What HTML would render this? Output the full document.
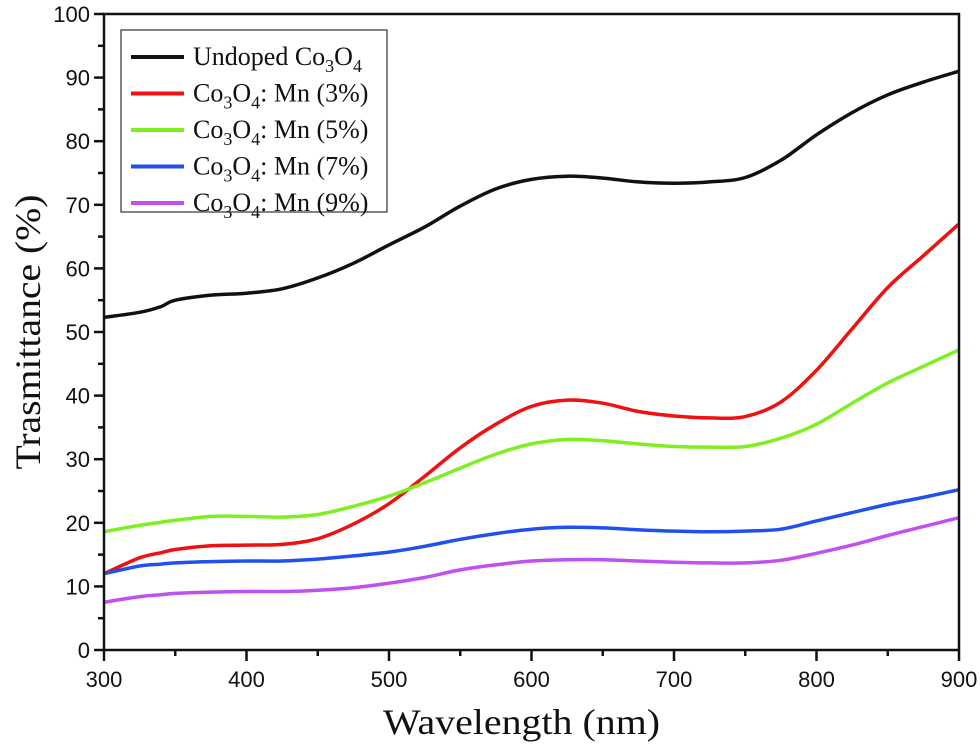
<!DOCTYPE html>
<html><head><meta charset="utf-8"><style>
body{margin:0;background:#fff}
svg{display:block}
.tick{font-family:"Liberation Sans",sans-serif;font-size:22px;fill:#111}
.title{font-family:"Liberation Serif",serif;font-size:36px;fill:#111}
.leg{font-family:"Liberation Serif",serif;font-size:26px;fill:#111}
</style></head><body>
<svg id="chart" width="980" height="745"></svg>
<script>
const wavelengths=[300,325,340,350,375,400,425,450,475,500,525,550,575,600,625,650,675,700,725,750,775,800,825,850,875,900];
const undoped=[52.3,53.1,54,55,55.8,56.1,56.8,58.5,60.8,63.7,66.5,69.8,72.5,74,74.5,74.2,73.6,73.4,73.6,74.3,77,81,84.5,87.3,89.3,91];
const mn3=[12,14.5,15.3,15.8,16.4,16.5,16.6,17.5,19.8,23,27.3,31.8,35.5,38.3,39.3,38.8,37.5,36.8,36.5,36.7,39,44,50.5,57,62,67];
const mn5=[18.6,19.6,20.1,20.4,21,21,20.9,21.3,22.6,24.2,26.3,28.6,30.8,32.4,33.1,32.9,32.4,32,31.9,32,33.3,35.5,38.8,42,44.6,47.2];
const mn7=[12,13.2,13.5,13.7,13.9,14,14,14.3,14.8,15.4,16.3,17.4,18.3,19,19.3,19.2,18.9,18.7,18.6,18.7,19,20.3,21.6,22.9,24,25.2];
const mn9=[7.5,8.4,8.7,8.9,9.1,9.2,9.2,9.4,9.8,10.5,11.4,12.6,13.4,14,14.2,14.2,14,13.8,13.7,13.7,14.1,15.2,16.5,18,19.4,20.8];
const xTicks=[300,400,500,600,700,800,900];
const yTicks=[0,10,20,30,40,50,60,70,80,90,100];
const seriesNames=["undoped","mn-3","mn-5","mn-7","mn-9"];
const seriesColors=["#111","#f01010","#7ef020","#2050f0","#c050f0"];
const seriesData=[undoped,mn3,mn5,mn7,mn9];

const L=104,R=959,T=14,B=650;
const sx=v=>L+(v-300)/600*(R-L);
const sy=v=>B-v/100*(B-T);
const NS="http://www.w3.org/2000/svg";
const svg=document.getElementById('chart');
function mk(tag,attrs,parent){const e=document.createElementNS(NS,tag);for(const k in attrs)e.setAttribute(k,attrs[k]);(parent||svg).appendChild(e);return e;}
function smooth(pts){
  let d='M'+pts[0][0].toFixed(1)+','+pts[0][1].toFixed(1);
  for(let i=0;i<pts.length-1;i++){
    const p0=pts[i-1]||pts[i],p1=pts[i],p2=pts[i+1],p3=pts[i+2]||p2;
    const c1=[p1[0]+(p2[0]-p0[0])/6,p1[1]+(p2[1]-p0[1])/6];
    const c2=[p2[0]-(p3[0]-p1[0])/6,p2[1]-(p3[1]-p1[1])/6];
    d+='C'+c1.map(v=>v.toFixed(1))+' '+c2.map(v=>v.toFixed(1))+' '+p2.map(v=>v.toFixed(1));
  }
  return d;
}
seriesData.forEach((d,i)=>{
  const p=mk('path',{d:smooth(d.map((v,j)=>[sx(wavelengths[j]),sy(v)])),fill:'none',stroke:seriesColors[i],'stroke-width':3.5,'stroke-linejoin':'round'});
  
  
});
const fr=mk('rect',{x:L,y:T,width:R-L,height:B-T,fill:'none',stroke:'#111','stroke-width':2.5});


xTicks.forEach(v=>{
  mk('line',{x1:sx(v),x2:sx(v),y1:B,y2:B+11,stroke:'#111','stroke-width':2.5});
  if(v<900) mk('line',{x1:sx(v+50),x2:sx(v+50),y1:B,y2:B+6,stroke:'#111','stroke-width':2.5});
  const t=mk('text',{x:sx(v),y:B+37,'text-anchor':'middle',class:'tick'});t.textContent=v;
  
  
});
yTicks.forEach(v=>{
  mk('line',{x1:L-10,x2:L,y1:sy(v),y2:sy(v),stroke:'#111','stroke-width':2.5});
  if(v<100) mk('line',{x1:L-6,x2:L,y1:sy(v+5),y2:sy(v+5),stroke:'#111','stroke-width':2.5});
  const t=mk('text',{x:L-14,y:sy(v)+8,'text-anchor':'end',class:'tick'});t.textContent=v;
  
  
});
const xt=mk('text',{x:383,y:734,class:'title',textLength:277,lengthAdjust:'spacingAndGlyphs'});xt.textContent='Wavelength (nm)';


const yt=mk('text',{x:-137.5,y:0,class:'title',textLength:275,lengthAdjust:'spacingAndGlyphs',transform:'translate(40,332) rotate(-90)'});yt.textContent='Trasmittance (%)';


const lg=mk('rect',{x:121,y:30,width:266,height:182,fill:'#fff',stroke:'#333','stroke-width':1.2});


const labels=[null,'3%','5%','7%','9%'];
seriesNames.forEach((n,i)=>{
  const y=57+i*36.5;
  mk('line',{x1:131,x2:184,y1:y,y2:y,stroke:seriesColors[i],'stroke-width':4});
  const t=mk('text',{x:193,y:y+8,class:'leg'});
  if(i===0) t.innerHTML='Undoped Co<tspan dy="7" font-size="18">3</tspan><tspan dy="-7">O</tspan><tspan dy="7" font-size="18">4</tspan>';
  else t.innerHTML='Co<tspan dy="7" font-size="18">3</tspan><tspan dy="-7">O</tspan><tspan dy="7" font-size="18">4</tspan><tspan dy="-7">: Mn ('+labels[i]+')</tspan>';
  
  
});
</script>
</body></html>
